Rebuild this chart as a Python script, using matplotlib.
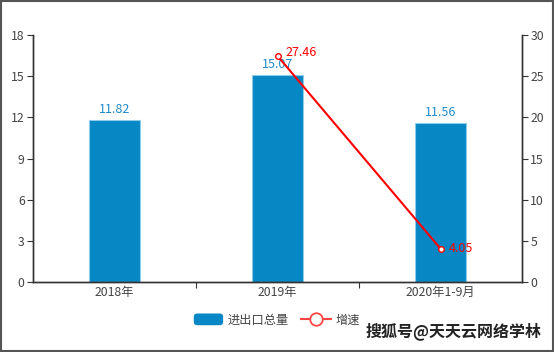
import matplotlib
matplotlib.use("Agg")
import matplotlib.pyplot as plt
import numpy as np
from matplotlib.lines import Line2D
from matplotlib.patches import FancyBboxPatch
from matplotlib.legend_handler import HandlerPatch

plt.rcParams['font.family'] = ['Noto Sans CJK SC', 'DejaVu Sans']

categories = ["2018年", "2019年", "2020年1-9月"]
totals = [11.82, 15.07, 11.56]
growth = [None, 27.46, 4.05]
left_ticks = [0, 3, 6, 9, 12, 15, 18]
right_ticks = [0, 5, 10, 15, 20, 25, 30]

bar_color = "#0787C3"
line_color = "#FF0000"
axis_color = "#333333"
text_color = "#444444"

fig = plt.figure(figsize=(5.54, 3.52), dpi=100)
ax = fig.add_axes([33/554, 1-282/352, (522-33)/554, (282-35)/352])
ax2 = ax.twinx()

x = np.arange(len(categories))
ax.bar(x, totals, width=0.31, color=bar_color, edgecolor="#8CCBEA", linewidth=0.8, zorder=2,
       label="进出口总量")
for xi, v in zip(x, totals):
    ax.text(xi, v + 0.3, f"{v:.2f}", ha="center", va="bottom", color="#1E8CCB", fontsize=9)

ax.set_xlim(-0.5, len(categories) - 0.5)
ax.set_ylim(0, 18)
ax.set_yticks(left_ticks)
ax.set_xticks([0.5, 1.5], minor=False)
ax.set_xticklabels(["", ""])
ax.set_xticks(x, minor=True)
ax.set_xticklabels(categories, minor=True)
ax.tick_params(axis="x", which="major", length=4, color=axis_color, direction="out")
ax.tick_params(axis="x", which="minor", length=0, labelsize=8.8, labelcolor=text_color, pad=3)
ax.tick_params(axis="y", length=4, color=axis_color, labelsize=8.8, labelcolor=text_color, pad=2)

gx = [xi for xi, g in zip(x, growth) if g is not None]
gy = [g for g in growth if g is not None]
ax2.plot(gx, gy, color=line_color, linewidth=1.5, marker="o", markersize=4,
         markerfacecolor="white", markeredgecolor=line_color, markeredgewidth=1, zorder=3,
         label="增速")
for xi, g in zip(gx, gy):
    ax2.text(xi + 0.05, g + (0.4 if g > 10 else 0), f"{g:.2f}", ha="left", va="center",
             color=line_color, fontsize=9)
ax2.set_ylim(0, 30)
ax2.set_yticks(right_ticks)
ax2.tick_params(axis="y", length=4, color=axis_color, labelsize=8.8, labelcolor=text_color, pad=2)

for a in (ax, ax2):
    a.spines["top"].set_visible(False)
    for s in ("left", "right", "bottom"):
        a.spines[s].set_color(axis_color)
        a.spines[s].set_linewidth(1)


class RoundHandler(HandlerPatch):
    def create_artists(self, legend, orig_handle, xdescent, ydescent, width, height, fontsize, trans):
        p = FancyBboxPatch((-xdescent, -ydescent), width, height,
                           boxstyle="round,pad=0,rounding_size=2.5",
                           facecolor=bar_color, edgecolor="none", transform=trans)
        return [p]


h1, l1 = ax.get_legend_handles_labels()
h2, l2 = ax2.get_legend_handles_labels()
lh = Line2D([], [], color="#FF4444", linewidth=1.5, marker="o", markersize=9,
            markerfacecolor="white", markeredgecolor="#FF4444", markeredgewidth=1.3)
leg = fig.legend(h1 + [lh], l1 + l2, loc="center", bbox_to_anchor=(0.5, 1-320/352), ncol=2,
                 frameon=False, fontsize=8.8, handlelength=2.4, handleheight=1.1,
                 columnspacing=1.0, handletextpad=0.4, labelcolor=text_color,
                 handler_map={h1[0]: RoundHandler()})

fig.text(0.978, 0.035, "搜狐号@天天云网络学林", ha="right", va="bottom", fontsize=11.5,
         fontweight="bold", color="#222222")

fig.patches.append(plt.Rectangle((0.002, 0.003), 0.996, 0.994, transform=fig.transFigure,
                                 fill=False, edgecolor="#555555", linewidth=1.5))

fig.savefig("out.png", dpi=100)
